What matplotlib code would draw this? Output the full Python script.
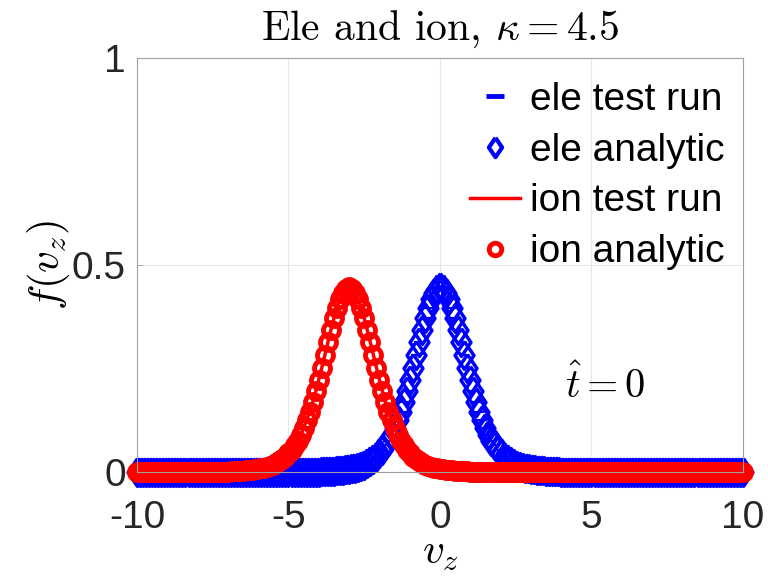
import numpy as np
import matplotlib
matplotlib.use("Agg")
import matplotlib.pyplot as plt

plt.rcParams['font.family'] = ['Liberation Sans', 'DejaVu Sans']
plt.rcParams['mathtext.fontset'] = 'cm'
plt.rcParams['axes.unicode_minus'] = False

# velocity grid, -10..10 in steps of 0.1
v_z = np.linspace(-10, 10, 201)

# ele distribution (centred at v_z = 0)
ele_f = [
    0.0, 0.0, 0.0, 0.0, 0.0, 0.0, 0.0, 0.0, 0.0, 0.0, 0.0,
    0.0, 0.0, 0.0, 0.0, 0.0, 0.0, 0.0, 0.0, 0.0, 0.0, 0.0,
    0.0, 0.0, 0.0, 0.0, 0.0, 0.0, 0.0, 0.0, 0.0, 0.0, 0.0,
    0.0, 0.0, 0.0, 0.0, 0.0, 0.0, 0.0, 0.0, 0.0, 0.0, 0.0,
    0.0, 0.0, 0.0, 0.0, 0.0, 0.0, 0.0, 0.0, 0.0, 0.0, 0.0,
    0.001, 0.001, 0.001, 0.001, 0.001, 0.001, 0.002, 0.002, 0.002, 0.003,
    0.003, 0.004, 0.004, 0.005, 0.006, 0.007, 0.009, 0.010, 0.012, 0.015,
    0.018, 0.022, 0.026, 0.031, 0.037, 0.045, 0.054, 0.064, 0.076, 0.090,
    0.106, 0.125, 0.146, 0.169, 0.195, 0.223, 0.252, 0.283, 0.313, 0.343,
    0.371, 0.396, 0.417, 0.433, 0.443,
    0.446,
    0.443, 0.433, 0.417, 0.396, 0.371,
    0.343, 0.313, 0.283, 0.252, 0.223, 0.195, 0.169, 0.146, 0.125, 0.106,
    0.090, 0.076, 0.064, 0.054, 0.045, 0.037, 0.031, 0.026, 0.022, 0.018,
    0.015, 0.012, 0.010, 0.009, 0.007, 0.006, 0.005, 0.004, 0.004, 0.003,
    0.003, 0.002, 0.002, 0.002, 0.001, 0.001, 0.001, 0.001, 0.001, 0.001,
    0.0, 0.0, 0.0, 0.0, 0.0, 0.0, 0.0, 0.0, 0.0, 0.0, 0.0,
    0.0, 0.0, 0.0, 0.0, 0.0, 0.0, 0.0, 0.0, 0.0, 0.0, 0.0,
    0.0, 0.0, 0.0, 0.0, 0.0, 0.0, 0.0, 0.0, 0.0, 0.0, 0.0,
    0.0, 0.0, 0.0, 0.0, 0.0, 0.0, 0.0, 0.0, 0.0, 0.0, 0.0,
    0.0, 0.0, 0.0, 0.0, 0.0, 0.0, 0.0, 0.0, 0.0, 0.0, 0.0,
]

# ion distribution (centred near v_z = -3)
ion_f = [
    0.0, 0.0, 0.0, 0.0, 0.0, 0.0, 0.0, 0.0, 0.0, 0.0,
    0.0, 0.0, 0.0, 0.0, 0.0, 0.0, 0.0, 0.0, 0.0, 0.0,
    0.0, 0.0, 0.0, 0.0, 0.0,
    0.001, 0.001, 0.001, 0.001, 0.001, 0.001, 0.002, 0.002, 0.002, 0.003,
    0.003, 0.004, 0.004, 0.005, 0.006, 0.007, 0.009, 0.010, 0.012, 0.015,
    0.018, 0.022, 0.026, 0.031, 0.037, 0.045, 0.054, 0.064, 0.076, 0.090,
    0.106, 0.125, 0.146, 0.169, 0.195, 0.223, 0.252, 0.283, 0.313, 0.343,
    0.371, 0.396, 0.417, 0.433, 0.443,
    0.446,
    0.443, 0.433, 0.417, 0.396, 0.371,
    0.343, 0.313, 0.283, 0.252, 0.223, 0.195, 0.169, 0.146, 0.125, 0.106,
    0.090, 0.076, 0.064, 0.054, 0.045, 0.037, 0.031, 0.026, 0.022, 0.018,
    0.015, 0.012, 0.010, 0.009, 0.007, 0.006, 0.005, 0.004, 0.004, 0.003,
    0.003, 0.002, 0.002, 0.002, 0.001, 0.001, 0.001, 0.001, 0.001, 0.001,
    0.0, 0.0, 0.0, 0.0, 0.0, 0.0, 0.0, 0.0, 0.0, 0.0,
    0.0, 0.0, 0.0, 0.0, 0.0, 0.0, 0.0, 0.0, 0.0, 0.0,
    0.0, 0.0, 0.0, 0.0, 0.0, 0.0, 0.0, 0.0, 0.0, 0.0,
    0.0, 0.0, 0.0, 0.0, 0.0, 0.0, 0.0, 0.0, 0.0, 0.0,
    0.0, 0.0, 0.0, 0.0, 0.0, 0.0, 0.0, 0.0, 0.0, 0.0,
    0.0, 0.0, 0.0, 0.0, 0.0, 0.0, 0.0, 0.0, 0.0, 0.0,
    0.0, 0.0, 0.0, 0.0, 0.0, 0.0, 0.0, 0.0, 0.0, 0.0,
    0.0, 0.0, 0.0, 0.0, 0.0, 0.0, 0.0, 0.0, 0.0, 0.0,
    0.0, 0.0, 0.0, 0.0, 0.0,
]

# test runs lie on top of the analytic curves in the figure
ele_run = ele_f
ion_run = ion_f

x_ticks = [-10, -5, 0, 5, 10]
y_ticks = [0, 0.5, 1]
y_tick_labels = ["0", "0.5", "1"]

# MATLAB-style diamond: a bit wider than matplotlib's thin diamond
diamond = [(0, 1), (0.68, 0), (0, -1), (-0.68, 0), (0, 1)]

fig = plt.figure(figsize=(7.68, 5.85), dpi=100)
ax = fig.add_axes([0.1784, 0.1932, 0.7890, 0.7077])

ax.plot(v_z, ele_run, linestyle="none", marker="_", color="blue",
        markersize=7, markeredgewidth=1.5, clip_on=False, label="ele test run")
ax.plot(v_z, ele_f, linestyle="none", marker=diamond, color="blue",
        markerfacecolor="none", markersize=20, markeredgewidth=2.5,
        clip_on=False, label="ele analytic")
ax.plot(v_z, ion_run, linestyle="-", color="red", linewidth=2.5,
        clip_on=False, label="ion test run")
ax.plot(v_z, ion_f, linestyle="none", marker="o", color="red",
        markerfacecolor="none", markersize=11.5, markeredgewidth=3.5,
        clip_on=False, label="ion analytic")

ax.set_xlim(-10, 10)
ax.set_ylim(0, 1)
ax.set_xticks(x_ticks)
ax.set_yticks(y_ticks)
ax.set_yticklabels(y_tick_labels)
ax.tick_params(direction="in", length=4, width=0.6, labelsize=28,
               colors="#a0a0a0", labelcolor="#262626")
ax.tick_params(axis="x", pad=20)
ax.tick_params(axis="y", pad=8)
ax.grid(True, color="#e6e6e6", linewidth=0.8)
ax.set_axisbelow(True)
for s in ax.spines.values():
    s.set_color("#a0a0a0")
    s.set_linewidth(0.8)

ax.set_xlabel(r"$v_z$", fontsize=31, labelpad=-2)
ax.set_ylabel(r"$f(v_z)$", fontsize=31, labelpad=0)
ax.set_title(r"Ele and ion, $\kappa = 4.5$", fontsize=30, family="cmr10",
             pad=13)
ax.text(5.45, 0.21, r"$\hat{t} = 0$", fontsize=29, ha="center", va="center")

leg = ax.legend(loc="upper right", bbox_to_anchor=(0.995, 0.98), frameon=False,
                fontsize=28, handlelength=1.3, handletextpad=0.25,
                labelspacing=0.38, borderaxespad=0.2, borderpad=0.2)
hs = leg.legend_handles
hs[0].set_markersize(13)
hs[0].set_markeredgewidth(3.5)
hs[1].set_markersize(14)
hs[1].set_markeredgewidth(3)
hs[3].set_markersize(9)
hs[3].set_markeredgewidth(3.5)

fig.savefig("out.png", dpi=100)
